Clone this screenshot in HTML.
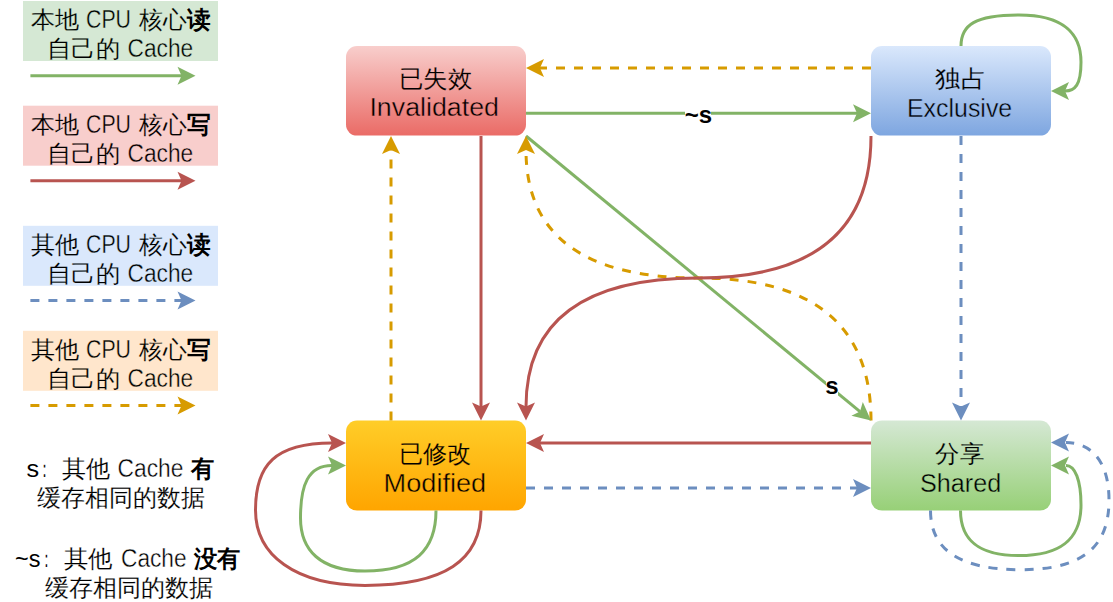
<!DOCTYPE html>
<html><head><meta charset="utf-8">
<style>
html,body{margin:0;padding:0;background:#fff;width:1113px;height:602px;overflow:hidden}
svg{display:block}
text{font-family:"Liberation Sans",sans-serif;font-size:24px;fill:#000}
</style></head><body>
<svg width="1113" height="602" viewBox="0 0 1113 602">
<defs>
<linearGradient id="gr" x1="0" y1="0" x2="0" y2="1"><stop offset="0" stop-color="#f8cecc"/><stop offset="1" stop-color="#ea6b66"/></linearGradient>
<linearGradient id="gb" x1="0" y1="0" x2="0" y2="1"><stop offset="0" stop-color="#dae8fc"/><stop offset="1" stop-color="#7ea6e0"/></linearGradient>
<linearGradient id="gy" x1="0" y1="0" x2="0" y2="1"><stop offset="0" stop-color="#ffcd28"/><stop offset="1" stop-color="#ffa500"/></linearGradient>
<linearGradient id="gg" x1="0" y1="0" x2="0" y2="1"><stop offset="0" stop-color="#d5e8d4"/><stop offset="1" stop-color="#97d077"/></linearGradient>
<linearGradient id="tr" gradientUnits="userSpaceOnUse" x1="0" y1="46" x2="0" y2="135.6"><stop offset="0" stop-color="#f8cecc"/><stop offset="1" stop-color="#ea6b66"/></linearGradient>
<linearGradient id="tb" gradientUnits="userSpaceOnUse" x1="0" y1="46" x2="0" y2="135.6"><stop offset="0" stop-color="#dae8fc"/><stop offset="1" stop-color="#7ea6e0"/></linearGradient>
<linearGradient id="ty" gradientUnits="userSpaceOnUse" x1="0" y1="420.6" x2="0" y2="510.6"><stop offset="0" stop-color="#ffcd28"/><stop offset="1" stop-color="#ffa500"/></linearGradient>
<linearGradient id="tg" gradientUnits="userSpaceOnUse" x1="0" y1="420.6" x2="0" y2="510.6"><stop offset="0" stop-color="#d5e8d4"/><stop offset="1" stop-color="#97d077"/></linearGradient>
</defs>
<rect width="1113" height="602" fill="#fff"/>

<!-- legend boxes -->
<rect x="23" y="1" width="195" height="60" fill="#d5e8d4"/>
<rect x="23" y="105.7" width="195" height="60" fill="#f8cecc"/>
<rect x="23" y="225.8" width="195" height="60" fill="#dae8fc"/>
<rect x="23" y="330.8" width="195" height="60" fill="#ffe6cc"/>

<!-- legend arrows -->
<g stroke-width="3" fill="none">
<path d="M30.4 75.8H182" stroke="#82b366"/>
<path d="M30.4 180.8H182" stroke="#b85450"/>
<path d="M30.4 300.5H182" stroke="#6c8ebf" stroke-dasharray="9 9"/>
<path d="M30.4 405.5H182" stroke="#d79b00" stroke-dasharray="9 9"/>
</g>
<g>
<path d="M195.5 75.8L177.5 66.8L181.5 75.8L177.5 84.8Z" fill="#82b366"/>
<path d="M195.5 180.8L177.5 171.8L181.5 180.8L177.5 189.8Z" fill="#b85450"/>
<path d="M195.5 300.5L177.5 291.5L181.5 300.5L177.5 309.5Z" fill="#6c8ebf"/>
<path d="M195.5 405.5L177.5 396.5L181.5 405.5L177.5 414.5Z" fill="#d79b00"/>
</g>

<!-- state boxes -->
<rect x="346" y="46" width="180" height="89.6" rx="11" fill="url(#gr)"/>
<rect x="871" y="46" width="180" height="89.6" rx="11" fill="url(#gb)"/>
<rect x="346" y="420.6" width="180" height="90" rx="11" fill="url(#gy)"/>
<rect x="871" y="420.6" width="180" height="90" rx="11" fill="url(#gg)"/>

<!-- edges -->
<g stroke-width="3" fill="none">
<path d="M871 68H540" stroke="#d79b00" stroke-dasharray="9 9"/>
<path d="M526 113.3H857" stroke="#82b366"/>
<path d="M526 136L860 411.6" stroke="#82b366"/>
<path d="M871 420.6Q871 278 698.5 278Q526 278 526 150" stroke="#d79b00" stroke-dasharray="9 9"/>
<path d="M871 136Q871 278 698.5 278Q526 278 526 407" stroke="#b85450"/>
<path d="M481 136V407" stroke="#b85450"/>
<path d="M391 420.6V150" stroke="#d79b00" stroke-dasharray="9 9"/>
<path d="M961 136V407" stroke="#6c8ebf" stroke-dasharray="9 9"/>
<path d="M871 443H540" stroke="#b85450"/>
<path d="M526 488H857" stroke="#6c8ebf" stroke-dasharray="9 9"/>
<!-- loops -->
<path d="M481 510.6C481 560 445 585.4 365 585.4C295 585.4 255.5 555 255.5 510C255.5 465 275 443 332 443" stroke="#b85450"/>
<path d="M436 510.6C436 550 415 571 365 571C320 571 300.5 550 300.5 518C300.5 485 308 465.5 332 465.5" stroke="#82b366"/>
<path d="M960.5 510.6C960.5 545 985 555.6 1019 555.6C1060 555.6 1081 540 1081 505C1081 480 1075 465.5 1066 465.5" stroke="#82b366"/>
<path d="M930.5 510.6C930.5 550 960 569.7 1021 569.7C1085 569.7 1109 545 1109 500C1109 460 1090 442.6 1066 442.6" stroke="#6c8ebf" stroke-dasharray="9 9"/>
<path d="M961 46C961 25 975 15 1019 15C1065 15 1081 35 1081 62C1081 85 1075 91 1065 91" stroke="#82b366"/>
</g>
<!-- arrowheads -->
<g>
<path d="M526 68L544 59L540 68L544 77Z" fill="#d79b00"/>
<path d="M871 113.3L853 104.3L857 113.3L853 122.3Z" fill="#82b366"/>
<path d="M526 136L517 154L526 150L535 154Z" fill="#d79b00"/>
<path d="M391 136L382 154L391 150L400 154Z" fill="#d79b00"/>
<path d="M481 420.6L472 402.6L481 406.6L490 402.6Z" fill="#b85450"/>
<path d="M526 420.6L517 402.6L526 406.6L535 402.6Z" fill="#b85450"/>
<path d="M961 420.6L952 402.6L961 406.6L970 402.6Z" fill="#6c8ebf"/>
<path d="M526 443L544 434L540 443L544 452Z" fill="#b85450"/>
<path d="M871 488L853 479L857 488L853 497Z" fill="#6c8ebf"/>
<path d="M346 443L328 434L332 443L328 452Z" fill="#b85450"/>
<path d="M346 465.5L328 456.5L332 465.5L328 474.5Z" fill="#82b366"/>
<path d="M1051 465.5L1069 456.5L1065 465.5L1069 474.5Z" fill="#82b366"/>
<path d="M1051 442.6L1069 433.6L1065 442.6L1069 451.6Z" fill="#6c8ebf"/>
<path d="M1051 91L1069 82L1065 91L1069 100Z" fill="#82b366"/>
<path d="M871 420.6L851.4 415.8L860 411.6L862.8 401.9Z" fill="#82b366"/>
</g>


<text x="398.60" y="87" stroke="url(#tr)" stroke-width="0.15" textLength="73.40" lengthAdjust="spacingAndGlyphs">已失效</text>
<text x="935.00" y="87" stroke="url(#tb)" stroke-width="0.15" textLength="51.00" lengthAdjust="spacingAndGlyphs">独占</text>
<text x="398.80" y="462" stroke="url(#ty)" stroke-width="0.15" textLength="72.60" lengthAdjust="spacingAndGlyphs">已修改</text>
<text x="935.00" y="462" stroke="url(#tg)" stroke-width="0.15" textLength="49.00" lengthAdjust="spacingAndGlyphs">分享</text>
<text x="369.40" y="116.3" stroke="url(#tr)" stroke-width="0.4" textLength="129.60" lengthAdjust="spacingAndGlyphs" style="font-size:25.5px">Invalidated</text>
<text x="907.00" y="117" stroke="url(#tb)" stroke-width="0.4" textLength="105.20" lengthAdjust="spacingAndGlyphs" style="font-size:25.5px">Exclusive</text>
<text x="383.60" y="492" stroke="url(#ty)" stroke-width="0.4" textLength="102.60" lengthAdjust="spacingAndGlyphs" style="font-size:25.5px">Modified</text>
<text x="920.00" y="492" stroke="url(#tg)" stroke-width="0.4" textLength="81.20" lengthAdjust="spacingAndGlyphs" style="font-size:25.5px">Shared</text>
<text x="31.00" y="27.9" stroke="#d5e8d4" stroke-width="0.15" textLength="48.20" lengthAdjust="spacingAndGlyphs">本地</text>
<text x="86.00" y="27.9" stroke="#d5e8d4" stroke-width="0.4" textLength="45.00" lengthAdjust="spacingAndGlyphs" style="font-size:25px">CPU</text>
<text x="139.00" y="27.9" stroke="#d5e8d4" stroke-width="0.15" textLength="71.40" lengthAdjust="spacingAndGlyphs">核心<tspan font-weight="bold" stroke="none">读</tspan></text>
<text x="47.00" y="56.9" stroke="#d5e8d4" stroke-width="0.15" textLength="73.00" lengthAdjust="spacingAndGlyphs">自己的</text>
<text x="127.60" y="56.9" stroke="#d5e8d4" stroke-width="0.4" textLength="65.60" lengthAdjust="spacingAndGlyphs" style="font-size:25px">Cache</text>
<text x="31.00" y="132.7" stroke="#f8cecc" stroke-width="0.15" textLength="48.20" lengthAdjust="spacingAndGlyphs">本地</text>
<text x="86.00" y="132.7" stroke="#f8cecc" stroke-width="0.4" textLength="45.00" lengthAdjust="spacingAndGlyphs" style="font-size:25px">CPU</text>
<text x="139.00" y="132.7" stroke="#f8cecc" stroke-width="0.15" textLength="71.40" lengthAdjust="spacingAndGlyphs">核心<tspan font-weight="bold" stroke="none">写</tspan></text>
<text x="47.00" y="161.7" stroke="#f8cecc" stroke-width="0.15" textLength="73.00" lengthAdjust="spacingAndGlyphs">自己的</text>
<text x="127.60" y="161.7" stroke="#f8cecc" stroke-width="0.4" textLength="65.60" lengthAdjust="spacingAndGlyphs" style="font-size:25px">Cache</text>
<text x="31.00" y="252.9" stroke="#dae8fc" stroke-width="0.15" textLength="48.20" lengthAdjust="spacingAndGlyphs">其他</text>
<text x="86.00" y="252.9" stroke="#dae8fc" stroke-width="0.4" textLength="45.00" lengthAdjust="spacingAndGlyphs" style="font-size:25px">CPU</text>
<text x="139.00" y="252.9" stroke="#dae8fc" stroke-width="0.15" textLength="71.40" lengthAdjust="spacingAndGlyphs">核心<tspan font-weight="bold" stroke="none">读</tspan></text>
<text x="47.00" y="281.9" stroke="#dae8fc" stroke-width="0.15" textLength="73.00" lengthAdjust="spacingAndGlyphs">自己的</text>
<text x="127.60" y="281.9" stroke="#dae8fc" stroke-width="0.4" textLength="65.60" lengthAdjust="spacingAndGlyphs" style="font-size:25px">Cache</text>
<text x="31.00" y="357.9" stroke="#ffe6cc" stroke-width="0.15" textLength="48.20" lengthAdjust="spacingAndGlyphs">其他</text>
<text x="86.00" y="357.9" stroke="#ffe6cc" stroke-width="0.4" textLength="45.00" lengthAdjust="spacingAndGlyphs" style="font-size:25px">CPU</text>
<text x="139.00" y="357.9" stroke="#ffe6cc" stroke-width="0.15" textLength="71.40" lengthAdjust="spacingAndGlyphs">核心<tspan font-weight="bold" stroke="none">写</tspan></text>
<text x="47.00" y="386.9" stroke="#ffe6cc" stroke-width="0.15" textLength="73.00" lengthAdjust="spacingAndGlyphs">自己的</text>
<text x="127.60" y="386.9" stroke="#ffe6cc" stroke-width="0.4" textLength="65.60" lengthAdjust="spacingAndGlyphs" style="font-size:25px">Cache</text>
<text x="26.60" y="477" textLength="12.60" lengthAdjust="spacingAndGlyphs">s</text>
<text x="37.80" y="477" stroke="#fff" stroke-width="0.15" textLength="13.00" lengthAdjust="spacingAndGlyphs">：</text>
<text x="62.00" y="477" stroke="#fff" stroke-width="0.15" textLength="48.00" lengthAdjust="spacingAndGlyphs">其他</text>
<text x="117.60" y="477" stroke="#fff" stroke-width="0.4" textLength="65.80" lengthAdjust="spacingAndGlyphs" style="font-size:25px">Cache</text>
<text x="191.00" y="477" textLength="23.20" lengthAdjust="spacingAndGlyphs" font-weight="bold">有</text>
<text x="37.00" y="506" stroke="#fff" stroke-width="0.15" textLength="168.00" lengthAdjust="spacingAndGlyphs">缓存相同的数据</text>
<text x="15.00" y="567" textLength="25.40" lengthAdjust="spacingAndGlyphs">~s</text>
<text x="40.40" y="567" stroke="#fff" stroke-width="0.15" textLength="12.80" lengthAdjust="spacingAndGlyphs">：</text>
<text x="64.00" y="567" stroke="#fff" stroke-width="0.15" textLength="48.60" lengthAdjust="spacingAndGlyphs">其他</text>
<text x="121.00" y="567" stroke="#fff" stroke-width="0.4" textLength="65.60" lengthAdjust="spacingAndGlyphs" style="font-size:25px">Cache</text>
<text x="193.80" y="567" textLength="46.40" lengthAdjust="spacingAndGlyphs" font-weight="bold">没有</text>
<text x="44.60" y="596" stroke="#fff" stroke-width="0.15" textLength="168.60" lengthAdjust="spacingAndGlyphs">缓存相同的数据</text>
<rect x="685" y="104" width="26" height="20" fill="#fff"/>
<text x="698.5" y="123" text-anchor="middle" font-weight="bold">~s</text>
<rect x="826" y="379" width="12" height="17" fill="#fff"/>
<text x="832" y="393.7" text-anchor="middle" font-weight="bold">s</text>
</svg>
</body></html>
